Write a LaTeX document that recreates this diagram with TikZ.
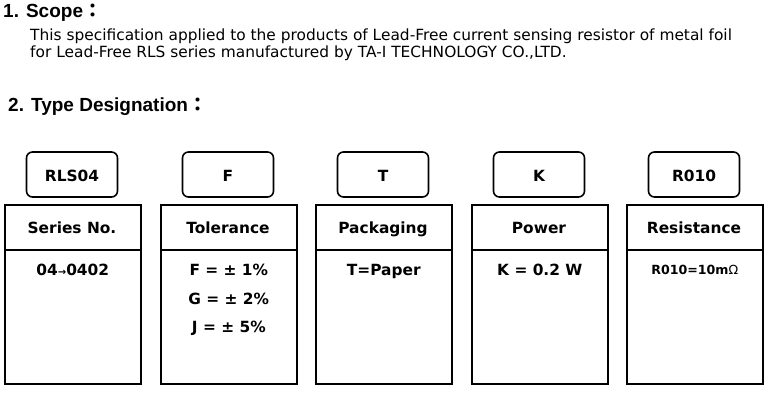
\documentclass[tikz,border=0pt]{standalone}
\usepackage{fontspec}
\setmainfont{DejaVu Sans}
\newfontfamily\headfont{Liberation Sans}
\newfontfamily\bodyfont{DejaVu Sans}
\newfontfamily\cjkfont{Noto Sans CJK TC}
\begin{document}
\begin{tikzpicture}[x=1pt,y=-1pt,
  heading/.style={anchor=base west, inner sep=0pt, font=\headfont\bfseries\fontsize{19}{22}\selectfont},
  bodytext/.style={anchor=base west, inner sep=0pt, font=\bodyfont\fontsize{15.4}{18}\selectfont},
  codebox/.style={draw, rounded corners=6pt, line width=1.6pt, minimum width=91pt, minimum height=45pt, inner sep=0pt},
  hdrbox/.style={draw, line width=1.6pt, minimum width=136pt, minimum height=45pt, inner sep=0pt, anchor=north west},
  bodybox/.style={draw, line width=1.6pt, minimum width=136pt, minimum height=134pt, inner sep=0pt, anchor=north west},
  entry/.style={anchor=base, inner sep=0pt, font=\bodyfont\bfseries\fontsize{15.4}{18}\selectfont}
]
\useasboundingbox (0,0) rectangle (775,406);
\node[heading] (h1) at (3,18) {1. Scope{\cjkfont ：}};
\node[bodytext] (s1) at (30,41) {This specification applied to the products of Lead-Free current sensing resistor of metal foil};
\node[bodytext] (s2) at (30,58) {for Lead-Free RLS series manufactured by TA-I TECHNOLOGY CO.,LTD.};
\node[heading] (h2) at (8,112) {2. Type Designation{\cjkfont ：}};

\foreach \i/\x/\code/\name in {1/4/RLS04/Series No., 2/160/F/Tolerance, 3/315/T/Packaging, 4/471/K/Power, 5/626/R010/Resistance}{
  \node[codebox] (c\i) at (\x+68,174.5) {};
  \node[entry] (ct\i) at (\x+68,181) {\code};
  \node[hdrbox] (h\i) at (\x,204) {};
  \node[bodybox] (b\i) at (\x,249) {};
  \node[entry] (ht\i) at (\x+68,233) {\name};
}
\node[entry] (e1) at (b1.north |- 0,275) {04{\fontsize{10}{12}\selectfont→}0402};
\node[entry] (e2a) at (b2.north |- 0,275) {F = ± 1\%};
\node[entry] (e2b) at (b2.north |- 0,304) {G = ± 2\%};
\node[entry] (e2c) at (b2.north |- 0,332) {J = ± 5\%};
\node[entry] (e3) at (b3.north |- 0,275) {T=Paper};
\node[entry] (e4) at (b4.north |- 0,275) {K = 0.2 W};
\node[entry, font=\bodyfont\bfseries\fontsize{12.6}{15}\selectfont] (e5) at (b5.north |- 0,274) {R010=10m{\mdseries Ω}};
\end{tikzpicture}
\end{document}
